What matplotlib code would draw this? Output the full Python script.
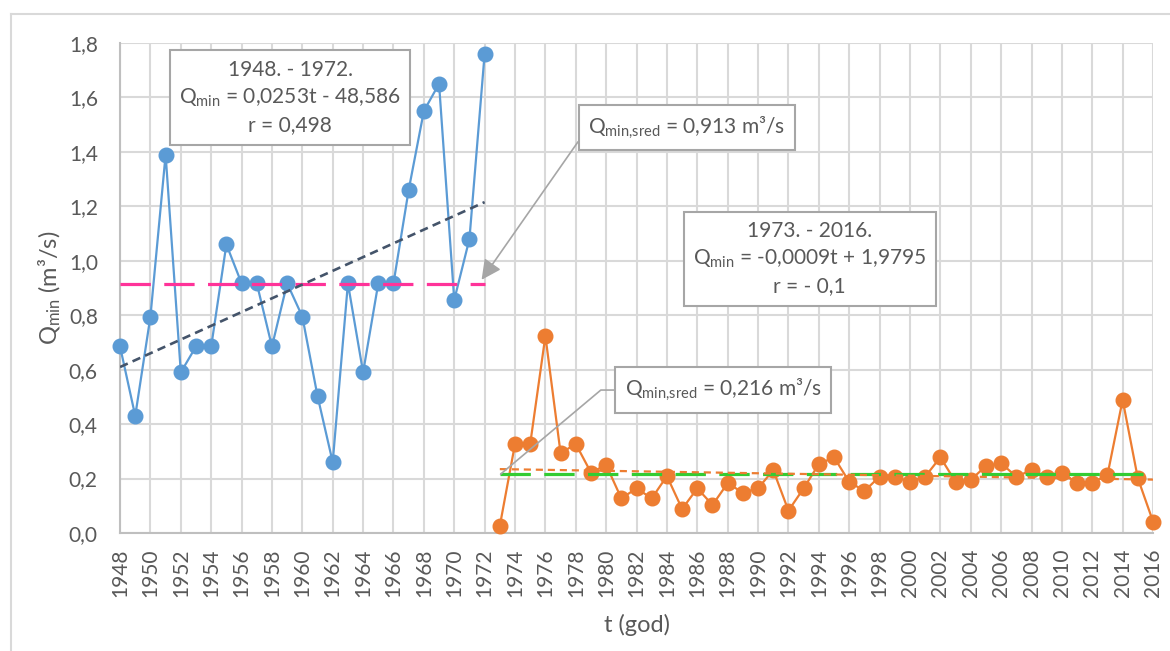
import numpy as np
import matplotlib
matplotlib.use('Agg')
import matplotlib.pyplot as plt
from matplotlib.lines import Line2D

# ---------------- podaci ----------------
god_1 = list(range(1948, 1973))
q_1 = [0.685, 0.43, 0.795, 1.39, 0.59, 0.685, 0.685, 1.06, 0.917, 0.917,
       0.685, 0.917, 0.795, 0.503, 0.26, 0.917, 0.59, 0.917, 0.917, 1.26,
       1.55, 1.65, 0.856, 1.08, 1.76]

god_2 = list(range(1973, 2017))
q_2 = [0.026, 0.327, 0.327, 0.724, 0.293, 0.327, 0.222, 0.25, 0.127, 0.164,
       0.127, 0.209, 0.088, 0.164, 0.103, 0.183, 0.148, 0.164, 0.231, 0.082,
       0.164, 0.253, 0.278, 0.188, 0.154, 0.207, 0.207, 0.188, 0.207, 0.278,
       0.188, 0.195, 0.246, 0.256, 0.207, 0.231, 0.207, 0.222, 0.183, 0.185,
       0.213, 0.489, 0.201, 0.042]

sred_1 = 0.913
sred_2 = 0.216

x_ticks = list(range(1948, 2017, 2))
y_ticks = [0.0, 0.2, 0.4, 0.6, 0.8, 1.0, 1.2, 1.4, 1.6, 1.8]
y_tick_labels = ['0,0', '0,2', '0,4', '0,6', '0,8', '1,0', '1,2', '1,4', '1,6', '1,8']

txt_1 = '1948. - 1972.\n$\\mathregular{Q_{min}}$ = 0,0253t - 48,586\nr = 0,498'
txt_2 = '1973. - 2016.\n$\\mathregular{Q_{min}}$ = -0,0009t + 1,9795\nr = - 0,1'
txt_sred_1 = '$\\mathregular{Q_{min{,}sred}}$ = 0,913 m³/s'
txt_sred_2 = '$\\mathregular{Q_{min{,}sred}}$ = 0,216 m³/s'

# ---------------- stil ----------------
plt.rcParams['font.family'] = ['Lato', 'DejaVu Sans']
plt.rcParams['mathtext.fontset'] = 'custom'
plt.rcParams['mathtext.rm'] = 'Lato'
siva = '#595959'
plava = '#5B9BD5'
narandz = '#ED7D31'

fig = plt.figure(figsize=(11.7, 6.51), dpi=100)
ax = fig.add_axes([0.1026, 0.1813, 0.8829, 0.7527])

# okvir oko cijele slike
fig.add_artist(Line2D([11/1170, 11/1170], [0, 1 - 14/651], transform=fig.transFigure,
                      color='#D9D9D9', lw=1.5))
fig.add_artist(Line2D([11/1170, 1], [1 - 14/651, 1 - 14/651], transform=fig.transFigure,
                      color='#D9D9D9', lw=1.5))

# serije
ax.plot(god_1, q_1, color=plava, lw=1.6, marker='o', ms=10.5, zorder=3, clip_on=False)
ax.plot(god_2, q_2, color=narandz, lw=1.6, marker='o', ms=10.5, zorder=3, clip_on=False)

# srednje vrijednosti
ax.plot([god_1[0], god_1[-1]], [sred_1, sred_1], color='#FF3399', lw=2.3,
        dashes=(9.5, 4.2), zorder=4)
ax.plot([god_2[0], god_2[-1]], [sred_2, sred_2], color='#33CC33', lw=2.3,
        dashes=(9.5, 4.2), zorder=4)

# trendovi
k1 = np.polyfit(god_1, q_1, 1)
k2 = np.polyfit(god_2, q_2, 1)
t1 = np.array([god_1[0], god_1[-1]])
t2 = np.array([god_2[0], god_2[-1]])
ax.plot(t1, np.polyval(k1, t1), color='#44546A', lw=1.9, dashes=(3.2, 2), zorder=5)
ax.plot(t2, np.polyval(k2, t2), color=narandz, lw=1.6, dashes=(3.2, 2.2), zorder=5)

# osi
ax.set_xlim(1948, 2016)
ax.set_ylim(0, 1.8)
ax.set_xticks(x_ticks)
ax.set_xticklabels([str(g) for g in x_ticks], rotation=90)
ax.set_yticks(y_ticks)
ax.set_yticklabels(y_tick_labels)
ax.tick_params(length=0, labelsize=15, labelcolor=siva)
ax.tick_params(axis='x', pad=11)
ax.tick_params(axis='y', pad=16)
ax.grid(True, color='#D9D9D9', lw=1.5)
ax.set_axisbelow(True)
for s in ['top', 'right']:
    ax.spines[s].set_visible(False)
for s in ['left', 'bottom']:
    ax.spines[s].set_color('#BFBFBF')
    ax.spines[s].set_linewidth(1.5)

ax.set_xlabel('t (god)', fontsize=17, color=siva, labelpad=12)
ax.set_ylabel('$\\mathregular{Q_{min}}$ (m³/s)', fontsize=17, color=siva, labelpad=4)

# natpisi
kutija = dict(boxstyle='square,pad=0.45', fc='white', ec='#A6A6A6', lw=1.5)
ax.text(1959.2, 1.60, txt_1, ha='center', va='center', fontsize=15, color=siva,
        linespacing=1.4, bbox=kutija, zorder=6)
ax.text(1993.4, 1.007, txt_2, ha='center', va='center', fontsize=15, color=siva,
        linespacing=1.4, bbox=kutija, zorder=6)

ax.annotate(txt_sred_1, xy=(1971.8, 0.93), xytext=(1985.3, 1.49),
            ha='center', va='center', fontsize=15, color=siva, bbox=kutija, zorder=6,
            arrowprops=dict(arrowstyle='-|>,head_length=0.8,head_width=0.4', color='#A6A6A6',
                            lw=1.2, relpos=(0, 0.5), shrinkA=0, shrinkB=0))
ax.annotate(txt_sred_2, xy=(1973.05, sred_2), xytext=(1987.7, 0.525),
            ha='center', va='center', fontsize=15, color=siva, bbox=kutija, zorder=6,
            arrowprops=dict(arrowstyle='-', color='#A6A6A6', lw=1.2, relpos=(0, 0.5),
                            shrinkA=0, shrinkB=0,
                            connectionstyle='angle,angleA=0,angleB=40,rad=0'))

plt.savefig('out.png', dpi=100)
